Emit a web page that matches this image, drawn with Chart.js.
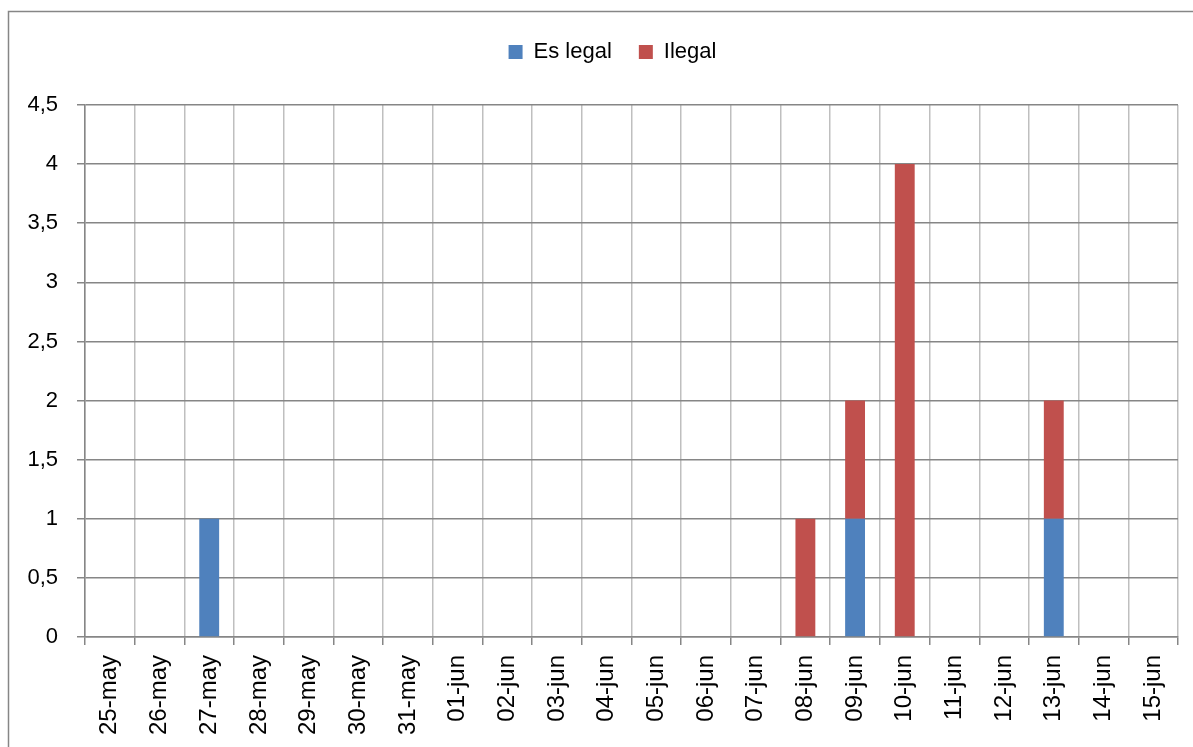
<!DOCTYPE html>
<html>
<head>
<meta charset="utf-8">
<script src="https://cdn.jsdelivr.net/npm/chart.js@4"></script>
<style>
  html, body { margin: 0; padding: 0; background: #fff; }
  #wrap { width: 1193px; height: 747px; }
</style>
</head>
<body>
<div id="wrap"><canvas id="chart-1" width="1193" height="747"></canvas></div>
<script>
// Data
const categories = ['25-may', '26-may', '27-may', '28-may', '29-may', '30-may', '31-may',
  '01-jun', '02-jun', '03-jun', '04-jun', '05-jun', '06-jun', '07-jun', '08-jun',
  '09-jun', '10-jun', '11-jun', '12-jun', '13-jun', '14-jun', '15-jun'];
const esLegal = [0, 0, 1, 0, 0, 0, 0, 0, 0, 0, 0, 0, 0, 0, 0, 1, 0, 0, 0, 1, 0, 0];
const ilegal  = [0, 0, 0, 0, 0, 0, 0, 0, 0, 0, 0, 0, 0, 0, 1, 1, 4, 0, 0, 1, 0, 0];
const yTicks = [0, 0.5, 1, 1.5, 2, 2.5, 3, 3.5, 4, 4.5];

const FONT = "'Liberation Sans', Arial, sans-serif";

// outer frame + fixed legend height / position
const framePlugin = {
  id: 'frame',
  beforeInit(chart) {
    const fit = chart.legend.fit;
    chart.legend.fit = function () {
      fit.bind(chart.legend)();
      this.height = 91;
    };
  },
  afterLayout(chart) {
    // legend sits a bit right of centre in the original
    chart.legend.left += 19;
    chart.legend.right += 19;
  },
  beforeDraw(chart) {
    const c = chart.ctx;
    c.save();
    c.fillStyle = '#fff';
    c.fillRect(0, 0, chart.width, chart.height);
    c.strokeStyle = '#868686';
    c.lineWidth = 1.5;
    c.strokeRect(8.5, 11.5, 1400, 1000);
    c.restore();
  }
};

const ctx1 = document.getElementById('chart-1').getContext('2d');
const chart1 = new Chart(ctx1, {
  type: 'bar',
  data: {
    labels: categories,
    datasets: [{
      label: 'Es legal',
      data: esLegal,
      backgroundColor: '#4F81BD',
      borderWidth: 0
    }, {
      label: 'Ilegal',
      data: ilegal,
      backgroundColor: '#C0504D',
      borderWidth: 0
    }]
  },
  options: {
    responsive: false,
    animation: false,
    layout: { padding: { top: 14, left: 9, right: 15, bottom: 0 } },
    datasets: { bar: { barPercentage: 0.4, categoryPercentage: 1.0 } },
    plugins: {
      tooltip: { enabled: false },
      legend: {
        position: 'top',
        labels: {
          boxWidth: 14,
          boxHeight: 14,
          padding: 27,
          color: '#000',
          font: { family: FONT, size: 22 }
        }
      }
    },
    scales: {
      x: {
        stacked: true,
        offset: true,
        afterFit(scale) { scale.height = 110; },
        border: { color: '#868686', width: 1.5 },
        grid: {
          offset: true,
          color: '#bfbfbf',
          lineWidth: 1.5,
          tickColor: '#868686',
          tickLength: 8
        },
        ticks: {
          minRotation: 90,
          maxRotation: 90,
          autoSkip: false,
          padding: 10,
          color: '#000',
          font: { family: FONT, size: 24 }
        }
      },
      y: {
        stacked: true,
        min: 0,
        max: 4.5,
        afterFit(scale) { scale.width = 76; },
        afterBuildTicks(scale) { scale.ticks = yTicks.map(v => ({ value: v })); },
        border: { color: '#868686', width: 1.5 },
        grid: {
          color: '#868686',
          lineWidth: 1.5,
          tickColor: '#868686',
          tickLength: 8
        },
        ticks: {
          padding: 19,
          color: '#000',
          font: { family: FONT, size: 22 },
          callback: (v) => String(v).replace('.', ',')
        }
      }
    }
  },
  plugins: [framePlugin]
});
</script>
</body>
</html>
